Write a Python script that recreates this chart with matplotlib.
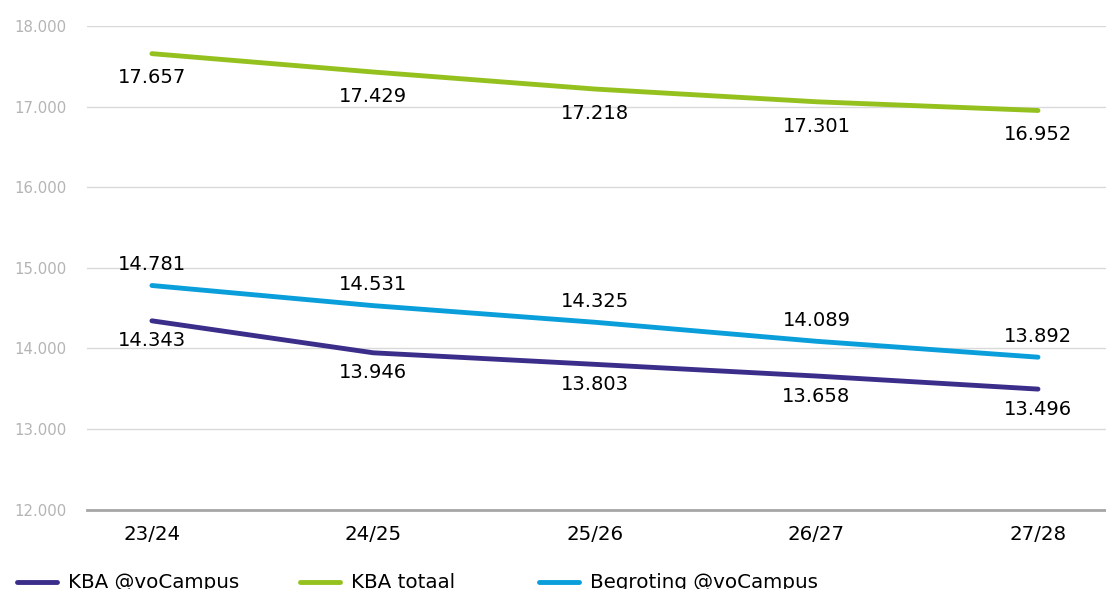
import matplotlib
matplotlib.use("Agg")
import matplotlib.pyplot as plt
from matplotlib.lines import Line2D

categories = ["23/24", "24/25", "25/26", "26/27", "27/28"]
kba_vocampus = [14343, 13946, 13803, 13658, 13496]
kba_totaal = [17657, 17429, 17218, 17060, 16952]
begroting_vocampus = [14781, 14531, 14325, 14089, 13892]
kba_vocampus_labels = ["14.343", "13.946", "13.803", "13.658", "13.496"]
kba_totaal_labels = ["17.657", "17.429", "17.218", "17.301", "16.952"]
begroting_labels = ["14.781", "14.531", "14.325", "14.089", "13.892"]
yticks = [12000, 13000, 14000, 15000, 16000, 17000, 18000]
ytick_labels = ["12.000", "13.000", "14.000", "15.000", "16.000", "17.000", "18.000"]

c_purple = "#3b2e8a"
c_green = "#95c11f"
c_blue = "#0a9fdb"

plt.rcParams['font.family'] = ['DejaVu Sans']
fig = plt.figure(figsize=(11.06, 5.89), dpi=100)
ax = fig.add_axes([87/1106, 1-509.7/589, 1-87/1106, (509.7-26)/589])

x = list(range(len(categories)))
lw = 3.5
ax.plot(x, kba_vocampus, color=c_purple, lw=lw, solid_capstyle='round', zorder=3)
ax.plot(x, kba_totaal, color=c_green, lw=lw, solid_capstyle='round', zorder=3)
ax.plot(x, begroting_vocampus, color=c_blue, lw=lw, solid_capstyle='round', zorder=3)

fs = 14
for xi, v, t in zip(x, kba_totaal, kba_totaal_labels):
    ax.annotate(t, (xi, v), xytext=(0, -17.5), textcoords='offset points',
                ha='center', va='center', fontsize=fs, color='black')
for xi, v, t in zip(x, begroting_vocampus, begroting_labels):
    ax.annotate(t, (xi, v), xytext=(0, 15), textcoords='offset points',
                ha='center', va='center', fontsize=fs, color='black')
for xi, v, t in zip(x, kba_vocampus, kba_vocampus_labels):
    ax.annotate(t, (xi, v), xytext=(0, -14.5), textcoords='offset points',
                ha='center', va='center', fontsize=fs, color='black')

ax.set_xlim(-0.293, 4.307)
ax.set_ylim(12000, 18000)
ax.set_yticks(yticks)
ax.set_yticklabels(ytick_labels)
ax.set_xticks(x)
ax.set_xticklabels(categories)
ax.tick_params(axis='y', length=0, pad=14.5, labelsize=10.7, labelcolor='#b4b4b4')
ax.tick_params(axis='x', length=0, pad=11, labelsize=14.2, labelcolor='black')
ax.grid(axis='y', color='#d9d9d9', lw=1)
ax.set_axisbelow(True)
for s in ['left', 'right', 'top']:
    ax.spines[s].set_visible(False)
ax.spines['bottom'].set_color('#a6a6a6')
ax.spines['bottom'].set_linewidth(2)
ax.spines['bottom'].set_zorder(2)

entries = [("KBA @voCampus", c_purple, 17), ("KBA totaal", c_green, 300), ("Begroting @voCampus", c_blue, 539)]
for name, col, px in entries:
    h = Line2D([], [], color=col, lw=lw, solid_capstyle='round')
    fig.legend([h], [name], loc='center left', bbox_to_anchor=(px/1106, 1-583/589),
               frameon=False, fontsize=14.3, handlelength=2.0, handletextpad=0.55,
               borderpad=0, borderaxespad=0)

fig.savefig("out.png", dpi=100)
